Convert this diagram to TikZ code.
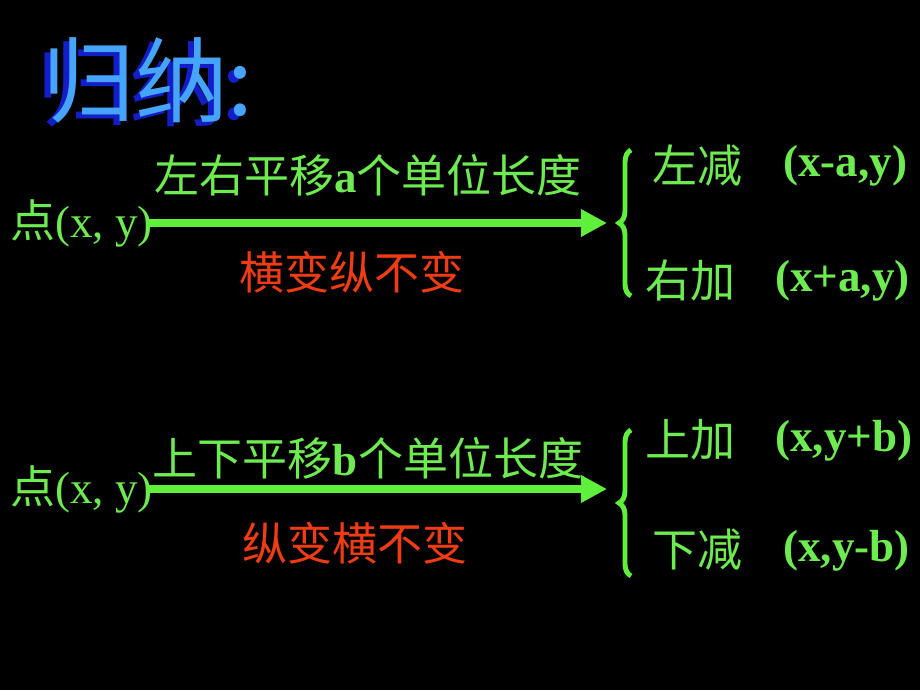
\documentclass[tikz,border=0pt]{standalone}
\usepackage{fontspec}
\setmainfont{Liberation Serif}
\newfontfamily\cjk{Noto Sans CJK SC}
\usetikzlibrary{arrows.meta}
\usetikzlibrary{decorations.pathreplacing}
\usetikzlibrary{positioning}

\definecolor{textgreen}{RGB}{110,235,80}
\definecolor{arrowgreen}{RGB}{95,240,60}
\definecolor{textred}{RGB}{240,60,20}
\definecolor{titlelight}{RGB}{70,165,250}
\definecolor{titledark}{RGB}{20,30,200}

\tikzset{
	gtext/.style={text=textgreen,inner sep=0pt,font=\fontsize{32}{36}\selectfont\cjk},
	rtext/.style={text=textred,inner sep=0pt,font=\fontsize{32}{36}\selectfont\cjk},
	ctext/.style={text=textgreen,inner sep=0pt,font=\fontsize{32}{36}\selectfont\bfseries},
	movearrow/.style={arrowgreen,line width=5pt,-{Triangle[length=0.65cm,width=0.65cm]}},
	bracestyle/.style={arrowgreen,line width=3.5pt,decorate,decoration={brace,amplitude=0.3cm}},
}

\begin{document}
\begin{tikzpicture}[x=0.025cm,y=-0.025cm]
		\fill[black] (0,0) rectangle (920,690);
		\useasboundingbox (0,0) rectangle (920,690);

		% title
		\node [text=titledark,font=\fontsize{66}{72}\selectfont\cjk] (titleshadow) at (142,84) {归纳:};
		\node [text=titlelight,font=\fontsize{66}{72}\selectfont\cjk] (title) at (148,80) {归纳:};

		% left and right
		\node [gtext,anchor=west] (pointa) at (10,223) {点{\rmfamily (x, y)}};
		\coordinate (tipa) at (607,220);
		\draw [movearrow] ([xshift=-4pt]pointa.east) -- (pointa.east -| tipa);
		\node [gtext] (ruleA) at (368,175) {左右平移{\rmfamily\bfseries a}个单位长度};
		\node [rtext] (noteA) at (352,272) {横变纵不变};
		\draw [bracestyle] (631,296) -- (631,150);
		\node [gtext,anchor=west] (leftsub) at (652,165) {左减};
		\node [ctext,anchor=west] (leftres) at (783,166) {(x-a,y)};
		\node [gtext,anchor=west] (rightadd) at (645,280) {右加};
		\node [ctext,anchor=west] (rightres) at (775,281) {(x+a,y)};

		% up and down
		\node [gtext,anchor=west] (pointb) at (10,489) {点{\rmfamily (x, y)}};
		\coordinate (tipb) at (607,490);
		\draw [movearrow] ([xshift=-4pt]pointb.east) -- (pointb.east -| tipb);
		\node [gtext] (ruleB) at (368,458) {上下平移{\rmfamily\bfseries b}个单位长度};
		\node [rtext] (noteB) at (355,543) {纵变横不变};
		\draw [bracestyle] (631,576) -- (631,430);
		\node [gtext,anchor=west] (upadd) at (645,440) {上加};
		\node [ctext,anchor=west] (upres) at (775,441) {(x,y+b)};
		\node [gtext,anchor=west] (downsub) at (652,550) {下减};
		\node [ctext,anchor=west] (downres) at (783,551) {(x,y-b)};
	\end{tikzpicture}
\end{document}
